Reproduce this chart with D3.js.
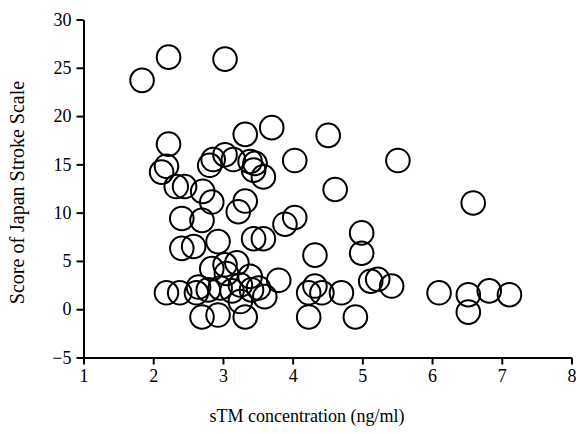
<!DOCTYPE html>
<html>
<head>
<meta charset="utf-8">
<script src="https://cdn.jsdelivr.net/npm/d3@7"></script>
<style>
  body { margin: 0; background: #fff; }
  svg text { font-family: "Liberation Serif", "Times New Roman", serif !important; fill: #000; }
</style>
</head>
<body>
<div id="chart"></div>
<script>
// sTM concentration (ng/ml) vs Japan Stroke Scale score
let stm = [
    1.84, 2.22, 3.03, 3.32, 3.70, 2.22, 4.51, 4.03, 5.51, 4.61, 6.59,
    2.12, 2.19, 2.33, 2.45, 2.71, 2.84, 2.81, 2.86, 3.03, 3.15, 3.39, 3.46, 3.44, 3.58, 3.32, 3.22, 2.41, 2.70,
    3.44, 3.58, 3.89, 4.03, 2.41, 2.58, 2.93, 4.99, 4.99, 4.32,
    2.84, 3.03, 3.20, 3.05, 3.39, 3.80, 2.19, 2.38, 2.62, 2.65, 2.79, 2.96, 3.13, 3.25, 3.41, 3.51, 3.60, 3.25, 2.70, 2.93, 3.32,
    4.32, 4.23, 4.42, 4.70, 4.23, 4.90, 5.12, 5.22, 5.42, 6.10, 6.52, 6.52, 6.82, 7.11
];
let jss = [
    23.7, 26.1, 25.9, 18.1, 18.8, 17.1, 18.0, 15.4, 15.4, 12.4, 11.0,
    14.2, 14.8, 12.7, 12.7, 12.2, 11.1, 14.9, 15.5, 16.0, 15.5, 15.3, 15.1, 14.4, 13.7, 11.2, 10.1, 9.4, 9.2,
    7.3, 7.3, 8.8, 9.5, 6.3, 6.5, 7.0, 7.9, 5.8, 5.6,
    4.2, 4.6, 4.8, 3.7, 3.4, 3.0, 1.7, 1.7, 1.7, 2.3, 2.0, 2.2, 1.9, 2.5, 2.0, 2.2, 1.3, 0.8, -0.8, -0.6, -0.8,
    2.4, 1.7, 1.7, 1.7, -0.8, -0.8, 2.9, 3.1, 2.4, 1.7, 1.5, -0.3, 1.9, 1.5
];
let xTicks = [1, 2, 3, 4, 5, 6, 7, 8];
let yTicks = [-5, 0, 5, 10, 15, 20, 25, 30];

let data = stm.map((d, i) => ({x: d, y: jss[i]}));

let margin = {top: 19.5, right: 4.5, bottom: 76.5, left: 83.5},
    width = 576 - margin.left - margin.right,
    height = 434 - margin.top - margin.bottom;

let svg = d3.select("#chart")
    .append("svg")
    .attr("width", 576)
    .attr("height", 434);

let graph = svg.append("g")
    .attr("transform", "translate(" + margin.left + "," + margin.top + ")");

let xScale = d3.scaleLinear().domain([1, 8]).range([0, width]);
let yScale = d3.scaleLinear().domain([-5, 30]).range([height, 0]);

// Axes
let xAxis = graph.append("g")
    .attr("transform", "translate(0," + height + ")")
    .call(d3.axisBottom(xScale).tickValues(xTicks).tickSize(7).tickSizeOuter(0).tickPadding(5)
        .tickFormat(d3.format("d")));

let yAxis = graph.append("g")
    .call(d3.axisLeft(yScale).tickValues(yTicks).tickSize(7).tickSizeOuter(0).tickPadding(5)
        .tickFormat(d => d < 0 ? "\u2212" + Math.abs(d) : d));

[xAxis, yAxis].forEach(a => {
    a.attr("font-family", null);
    a.selectAll("path, line").attr("stroke", "#000").attr("stroke-width", 2);
    a.selectAll("text").style("font-size", "18px").attr("fill", "#000");
});

// Points
graph.selectAll("circle")
    .data(data)
    .enter()
    .append("circle")
    .attr("cx", d => xScale(d.x))
    .attr("cy", d => yScale(d.y))
    .attr("r", 11.8)
    .attr("fill", "none")
    .attr("stroke", "#000")
    .attr("stroke-width", 2);

// Axis titles
svg.append("text")
    .attr("x", 307)
    .attr("y", 422)
    .attr("text-anchor", "middle")
    .style("font-size", "18px")
    .text("sTM concentration (ng/ml)");

svg.append("text")
    .attr("transform", "translate(24," + (margin.top + height / 2 + 4) + ") rotate(-90)")
    .attr("text-anchor", "middle")
    .style("font-size", "20px")
    .text("Score of Japan Stroke Scale");
</script>
</body>
</html>
